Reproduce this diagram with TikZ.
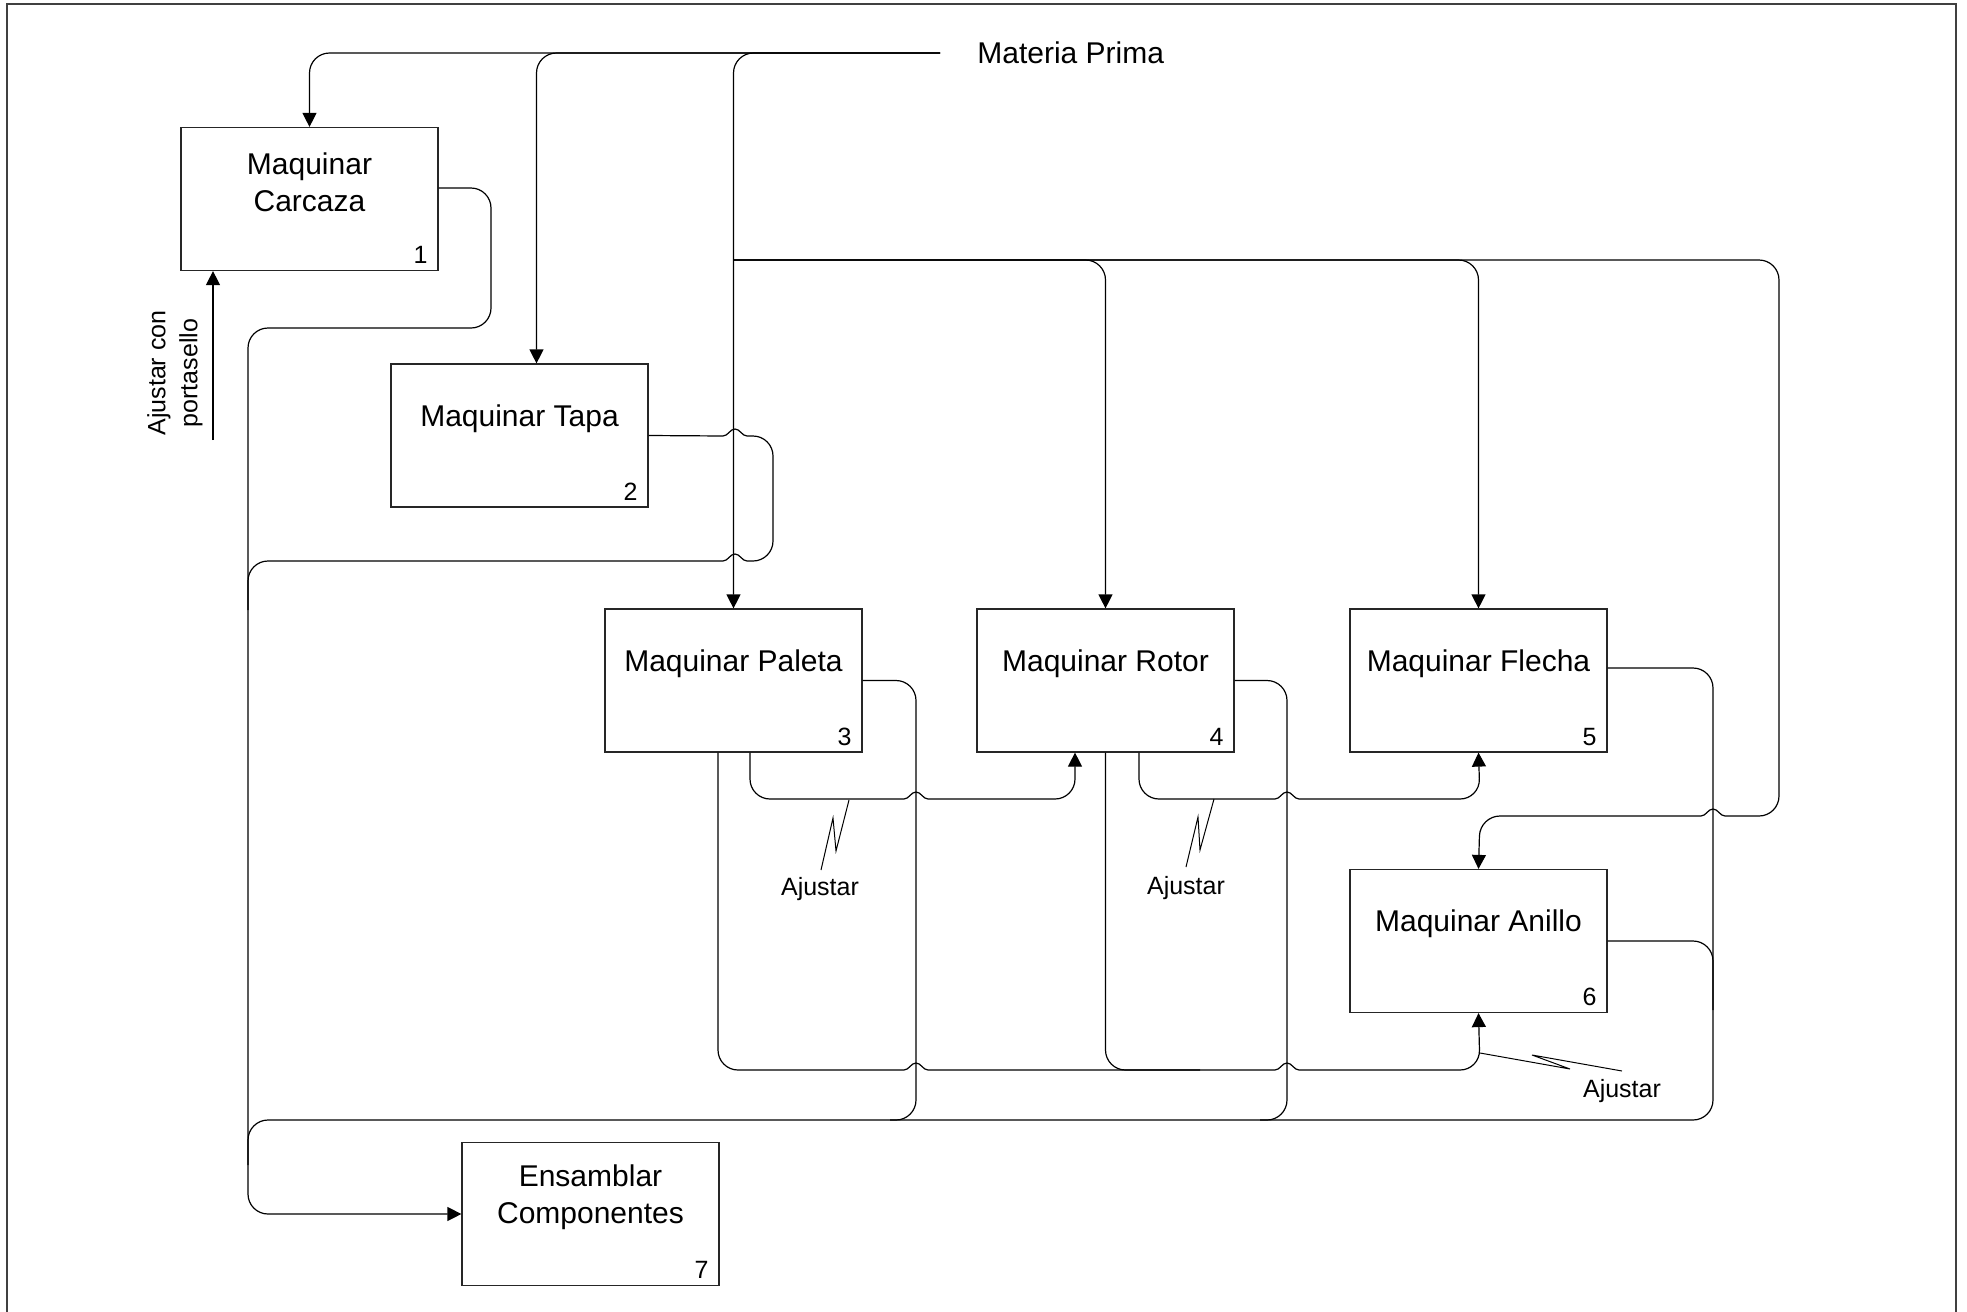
\documentclass[tikz,border=0pt]{standalone}
\usepackage{fontspec}
\setmainfont{Liberation Sans}
\usetikzlibrary{arrows.meta,positioning}

\tikzset{
  caja/.style={draw=black!85, line width=0.6pt, minimum width=128.5pt, minimum height=71.5pt, inner sep=0pt},
  titulo/.style={font=\fontsize{15}{18.5}\selectfont, align=center, inner sep=0pt, yshift=-27.5pt},
  numero/.style={font=\fontsize{12.5}{15}\selectfont, inner sep=0pt, xshift=-9pt, yshift=8pt},
  nota/.style={font=\fontsize{12.5}{16}\selectfont, inner sep=0pt, align=center},
  redondo/.style={rounded corners=10pt},
  flujo/.style={line width=0.6pt, redondo},
  flecha/.style={flujo, -{Triangle[length=7pt,width=7pt]}},
  rayo/.style={line width=0.5pt},
  salto/.style n args={3}{insert path={[sharp corners] -- (#1-12*#3,#2) .. controls (#1-7*#3,#2) and (#1-5*#3,#2-7) .. (#1,#2-7) .. controls (#1+5*#3,#2-7) and (#1+7*#3,#2) .. (#1+12*#3,#2) [redondo]}}
}

\begin{document}
\begin{tikzpicture}[x=0.5pt, y=-0.5pt]
\useasboundingbox (0,0) rectangle (1967,1312);
\draw[line width=1pt, black!75] (7,1312) -- (7,4) -- (1956,4) -- (1956,1312);

\node[caja] (c1) at (309.5,199) {};    \node[titulo] (t1) at (c1.north) {Maquinar\\Carcaza};  \node[numero] (n1) at (c1.south east) {1};
\node[caja] (c2) at (519.5,435.5) {};  \node[titulo] (t2) at (c2.north) {Maquinar Tapa};      \node[numero] (n2) at (c2.south east) {2};
\node[caja] (c3) at (733.5,680.5) {};  \node[titulo] (t3) at (c3.north) {Maquinar Paleta};    \node[numero] (n3) at (c3.south east) {3};
\node[caja] (c4) at (1105.5,680.5) {}; \node[titulo] (t4) at (c4.north) {Maquinar Rotor};     \node[numero] (n4) at (c4.south east) {4};
\node[caja] (c5) at (1478.5,680.5) {}; \node[titulo] (t5) at (c5.north) {Maquinar Flecha};    \node[numero] (n5) at (c5.south east) {5};
\node[caja] (c6) at (1478.5,941) {};   \node[titulo] (t6) at (c6.north) {Maquinar Anillo};    \node[numero] (n6) at (c6.south east) {6};
\node[caja] (c7) at (590.5,1214) {};   \node[titulo] (t7) at (c7.north) {Ensamblar\\Componentes}; \node[numero] (n7) at (c7.south east) {7};

\node[nota, font=\fontsize{15}{18.5}\selectfont, anchor=west] (mp) at (977,53) {Materia Prima};
\node[nota, rotate=90] (acpt) at (175,373) {Ajustar con\\portasello};
\node[nota] (a1) at (820,889) {Ajustar}; \node[nota] (a2) at (1186,888) {Ajustar}; \node[nota] (a3) at (1622,1091) {Ajustar};

\coordinate (mpfin) at (940,53); \coordinate (jm) at (733,260); \coordinate (acp) at (213,440);

\draw[flecha] (mpfin) -| (c1.north);  \draw[flecha] (mpfin) -| ([xshift=8.5pt]c2.north);  \draw[flecha] (mpfin) -| (c3.north);
\draw[flecha] (jm) -| (c4.north);  \draw[flecha] (jm) -| (c5.north);
\draw[flecha] (jm) -- (1779,260) -- (1779,816) [salto={1713}{816}{-1}] -- (1480,816) -- (c6.north);
\draw[flecha] (acp) -- (acp |- c1.south);

\draw[flecha] ([yshift=5.5pt]c1.east) -| (491,328) -- (248,328) |- (c7.west);
\draw[flujo] (c2.east) [salto={735}{436}{1}] -- (773,436) -- (773,561) [salto={735}{561}{-1}] -- (248,561) -- (248,610);
\draw[flujo] (c3.east) -| (916,1120) -- (248,1120) -- (248,1165);
\draw[flujo] (c4.east) -| (1287,1120) -- (890,1120);
\draw[flujo] ([yshift=6.25pt]c5.east) -| (1713,1120) -- (1260,1120);
\draw[flujo] (c6.east) -| (1713,1010);

\draw[flecha] ([xshift=-7.75pt]c3.south) -- (718,1070) [salto={916}{1070}{1}] -- (1000,1070) [salto={1287}{1070}{1}] -- (1480,1070) -- (c6.south);
\draw[flujo] (c4.south) |- (1200,1070);
\draw[flecha] ([xshift=8.25pt]c3.south) -- (750,799) [salto={916}{799}{1}] -- (1075,799) -- ([xshift=-15.25pt]c4.south);
\draw[flecha] ([xshift=16.75pt]c4.south) -- (1139,799) [salto={1287}{799}{1}] -- (1480,799) -- (c5.south);

\coordinate (r1) at (849,800); \coordinate (r2) at (1214,799); \coordinate (r3) at (1480,1053);
\draw[rayo] (r1) -- (836,851) -- (833,818) -- (821,870);
\draw[rayo] (r2) -- (1200,850) -- (1198,817) -- (1186,867);
\draw[rayo] (r3) -- (1570,1069) -- (1532,1055) -- (1622,1071);
\end{tikzpicture}
\end{document}
